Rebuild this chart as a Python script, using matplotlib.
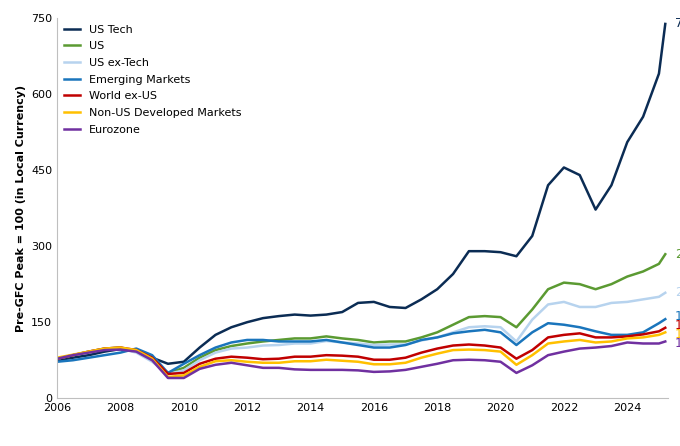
import matplotlib.pyplot as plt

xs = [2006, 2006.5, 2007, 2007.5, 2008, 2008.5, 2009, 2009.5, 2010, 2010.5,
      2011, 2011.5, 2012, 2012.5, 2013, 2013.5, 2014, 2014.5, 2015, 2015.5,
      2016, 2016.5, 2017, 2017.5, 2018, 2018.5, 2019, 2019.5, 2020, 2020.5,
      2021, 2021.5, 2022, 2022.5, 2023, 2023.5, 2024, 2024.5, 2025, 2025.2]

us_tech = [75, 80, 85, 92, 97, 92, 80, 68, 72, 100, 125, 140, 150, 158, 162, 165, 163, 165, 170, 188,
           190, 180, 178, 195, 215, 245, 290, 290, 288, 280, 320, 420, 455, 440, 372, 420, 505, 555, 640, 738]
us = [78, 85, 92, 98, 100, 92, 75, 50, 60, 80, 95, 103, 108, 112, 115, 118, 118, 122, 118, 115,
      110, 112, 112, 120, 130, 145, 160, 162, 160, 140, 175, 215, 228, 225, 215, 225, 240, 250, 265, 284]
us_ex_tech = [78, 85, 92, 97, 98, 90, 72, 48, 55, 75, 90, 98, 100, 104, 105, 108, 108, 113, 110, 108,
              105, 106, 106, 114, 120, 130, 140, 142, 140, 112, 155, 185, 190, 180, 180, 188, 190, 195, 200, 208]
em = [72, 75, 80, 85, 90, 98, 85, 50, 68, 85, 100, 110, 115, 115, 112, 112, 112, 115, 110, 105,
      100, 100, 105, 115, 120, 128, 132, 135, 130, 105, 130, 148, 145, 140, 132, 125, 125, 130, 148, 156]
world_ex_us = [78, 85, 92, 98, 100, 95, 80, 48, 50, 68, 78, 82, 80, 77, 78, 82, 82, 85, 84, 82,
               76, 76, 80, 90, 98, 104, 106, 104, 100, 78, 95, 120, 125, 128, 120, 120, 122, 126, 132, 139]
non_us_dm = [80, 86, 92, 98, 100, 95, 78, 42, 45, 62, 73, 75, 72, 70, 70, 73, 73, 76, 74, 72,
             67, 67, 70, 80, 88, 95, 96, 95, 92, 66, 85, 108, 112, 115, 110, 112, 118, 120, 125, 130]
eurozone = [78, 85, 90, 95, 96, 92, 75, 40, 40, 58, 66, 70, 65, 60, 60, 57, 56, 56, 56, 55,
            52, 53, 56, 62, 68, 75, 76, 75, 72, 50, 65, 85, 92, 98, 100, 103, 110, 108, 108, 112]

series = [
    ("US Tech", us_tech, "#0b2c54"),
    ("US", us, "#5b9a32"),
    ("US ex-Tech", us_ex_tech, "#b7d3ee"),
    ("Emerging Markets", em, "#1a75bc"),
    ("World ex-US", world_ex_us, "#c00000"),
    ("Non-US Developed Markets", non_us_dm, "#ffc000"),
    ("Eurozone", eurozone, "#7030a0"),
]
# end label positions (spread out so they don't overlap)
label_y = {"Emerging Markets": 162, "World ex-US": 144, "Non-US Developed Markets": 126, "Eurozone": 108}

fig, ax = plt.subplots(figsize=(6.8, 4.46), dpi=100)
for name, vals, col in series:
    ax.plot(xs, vals, color=col, lw=1.8, label=name)
    ax.text(xs[-1] + 0.3, label_y.get(name, vals[-1]), str(vals[-1]),
            color=col, fontsize=9, va="center", clip_on=False)

ax.set_xlim(2006, 2025.3)
ax.set_ylim(0, 750)
ax.set_xticks(range(2006, 2026, 2))
ax.set_yticks(range(0, 751, 150))
ax.tick_params(labelsize=8, length=0)
for s in ["top", "right"]:
    ax.spines[s].set_visible(False)
for s in ["left", "bottom"]:
    ax.spines[s].set_color("#bfbfbf")
ax.set_ylabel("Pre-GFC Peak = 100 (in Local Currency)", fontsize=8, fontweight="bold")
ax.legend(loc="upper left", frameon=False, fontsize=8, handlelength=1.5,
          labelspacing=0.6, borderaxespad=0.2)
fig.subplots_adjust(left=0.084, right=0.983, top=0.96, bottom=0.107)
fig.savefig("out.png")
